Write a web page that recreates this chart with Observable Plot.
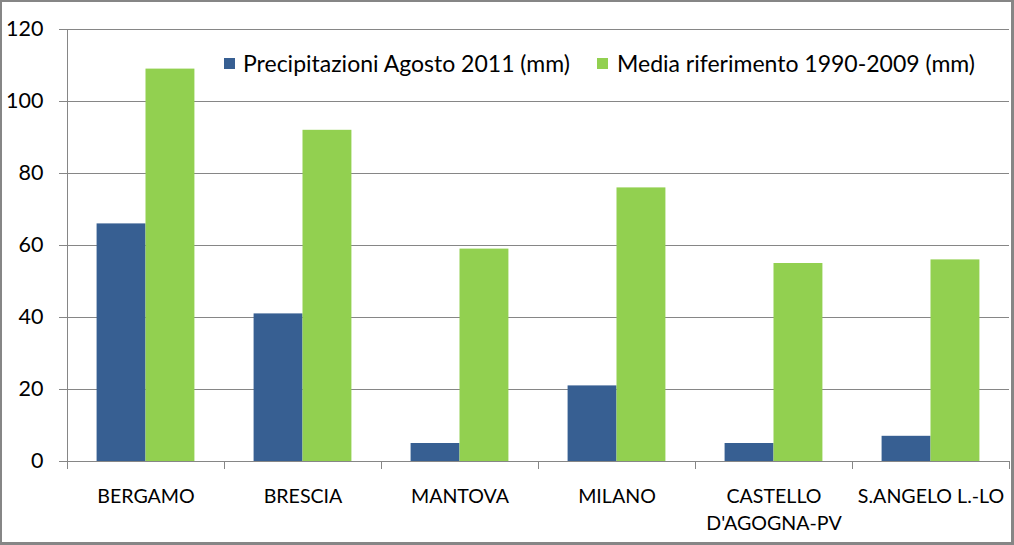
<!DOCTYPE html>
<html>
<head>
<meta charset="utf-8">
<script src="https://cdn.jsdelivr.net/npm/d3@7"></script>
<script src="https://cdn.jsdelivr.net/npm/@observablehq/plot@0.6"></script>
<style>
  html, body { margin: 0; padding: 0; background: white; }
  #wrap { position: relative; width: 1014px; height: 545px; overflow: hidden; font-family: Lato, "Open Sans", sans-serif; }
  #border { position: absolute; left: 0; top: 0; width: 1014px; height: 545px; box-sizing: border-box; border: 2px solid #868686; border-right-width: 3px; border-bottom-width: 3px; pointer-events: none; }
  .leg { position: absolute; font-size: 23px; line-height: 23px; color: #000; white-space: nowrap; }
  .sw { position: absolute; width: 11px; height: 11px; }
</style>
</head>
<body>
<div id="wrap">
  <div id="chart"></div>
  <div id="legend"></div>
  <div id="border"></div>
</div>
<script>
const cities = ["BERGAMO", "BRESCIA", "MANTOVA", "MILANO", "CASTELLO\nD'AGOGNA-PV", "S.ANGELO L.-LO"];
const precip2011 = [66, 41, 5, 21, 5, 7];
const mediaRif = [109, 92, 59, 76, 55, 56];
const seriesNames = ["Precipitazioni Agosto 2011 (mm)", "Media riferimento 1990-2009 (mm)"];
const seriesColors = ["#375F92", "#92D050"];
const yTicks = [0, 20, 40, 60, 80, 100, 120];

const data = cities.flatMap((c, i) => [
  {city: c, series: seriesNames[0], value: precip2011[i]},
  {city: c, series: seriesNames[1], value: mediaRif[i]}
]);

const gridColor = "#868686";

const plot = Plot.plot({
  width: 1014,
  height: 545,
  marginLeft: 66,
  marginRight: 4,
  marginTop: 29,
  marginBottom: 84,
  style: {fontFamily: "Lato, 'Open Sans', sans-serif", fontSize: "20px", color: "#000", background: "white"},
  fx: {domain: cities, padding: 0, label: null},
  x: {domain: seriesNames, paddingInner: 0, paddingOuter: 0.605, round: false, axis: null},
  y: {domain: [0, 120], label: null},
  color: {domain: seriesNames, range: seriesColors},
  marks: [
    Plot.gridY(yTicks, {stroke: gridColor, strokeOpacity: 1, strokeWidth: 1}),
    Plot.axisY(yTicks, {tickSize: 8, tickPadding: 16, stroke: gridColor, strokeOpacity: 1, label: null, fontSize: 21.5, fill: "#000"}),
    Plot.barY(data, {fx: "city", x: "series", y: "value", fill: "series"}),
    Plot.axisFx({anchor: "bottom", tickSize: 0, tickPadding: 22, label: null, fontSize: 19.6, lineHeight: 1.38, fill: "#000"})
  ]
});

// axis line & category boundary ticks, positioned with the plot's own scales
const fx = plot.scale("fx");
const y = plot.scale("y");
const y0 = y.apply(0), yTop = y.apply(120);
const svg = d3.select(plot);
const g = svg.append("g").attr("stroke", gridColor).attr("stroke-width", 1).attr("shape-rendering", "crispEdges");
const bounds = cities.map(c => fx.apply(c)).concat([fx.apply(cities[cities.length - 1]) + fx.bandwidth]);
g.append("line").attr("x1", bounds[0]).attr("x2", bounds[0]).attr("y1", yTop).attr("y2", y0 + 8);
bounds.slice(1).forEach(b => g.append("line").attr("x1", b).attr("x2", b).attr("y1", y0).attr("y2", y0 + 8));

document.getElementById("chart").appendChild(plot);

// legend (inside plot area)
const legend = document.getElementById("legend");
const legPos = [{sw: 224, tx: 243}, {sw: 597, tx: 617}];
seriesNames.forEach((s, i) => {
  const sw = document.createElement("div");
  sw.className = "sw";
  sw.style.left = legPos[i].sw + "px";
  sw.style.top = "58px";
  sw.style.background = seriesColors[i];
  legend.appendChild(sw);
  const t = document.createElement("div");
  t.className = "leg";
  t.style.left = legPos[i].tx + "px";
  t.style.top = "52px";
  t.textContent = s;
  legend.appendChild(t);
});
</script>
</body>
</html>
